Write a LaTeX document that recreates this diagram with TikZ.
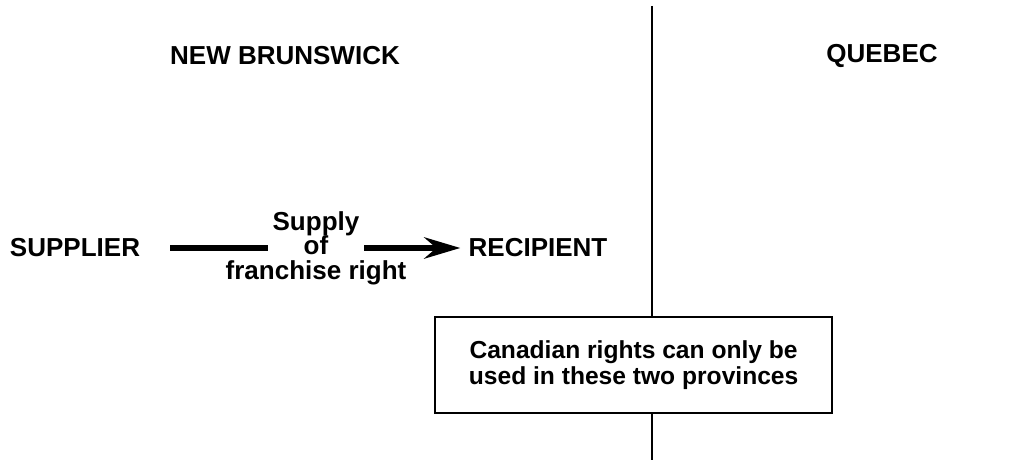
\documentclass[tikz,border=0pt]{standalone}
\usepackage{fontspec}
\setmainfont{Liberation Sans}
\usetikzlibrary{arrows.meta,calc}

\begin{document}
\begin{tikzpicture}[every node/.style={inner sep=0pt,font=\bfseries\fontsize{18.5}{17.5}\selectfont},
    bar/.style={line width=4.3pt},
    note/.style={draw,fill=white,line width=1.8pt,align=center,minimum width=9.925cm,minimum height=2.4cm}]
\useasboundingbox (0,0) rectangle (25.85,-11.5);
    \node (nb) at (7.125,-1.4){NEW BRUNSWICK};
    \node (qc) at (22.05,-1.4){QUEBEC};
    \node (supplier) at (1.875,-6.2){SUPPLIER};
    \node (recipient) at (13.45,-6.2){RECIPIENT};
    \node[align=center] (supply) at (7.9,-6.2){Supply\\of\\franchise right};
    \coordinate (gapL) at ($(supply)+(-1.2,0)$);
    \coordinate (gapR) at ($(supply)+(1.2,0)$);
    \draw[bar,shorten <=0.75cm] (supplier) -- (gapL);
    \draw[bar,-{Stealth[length=0.9cm,width=0.53cm,inset=0.3cm]},shorten >=0.2cm] (gapR) -- (recipient);
    % provincial border, broken by the note
    \coordinate (top) at (16.3,-0.15);
    \coordinate (bottom) at (16.3,-11.5);
    \draw[line width=2.1pt] (top) -- (bottom);
    \node[note,font=\bfseries\fontsize{17.5}{18}\selectfont] (rights) at (15.84,-9.125){Canadian rights can only be\\used in these two provinces};
\end{tikzpicture}
\end{document}
